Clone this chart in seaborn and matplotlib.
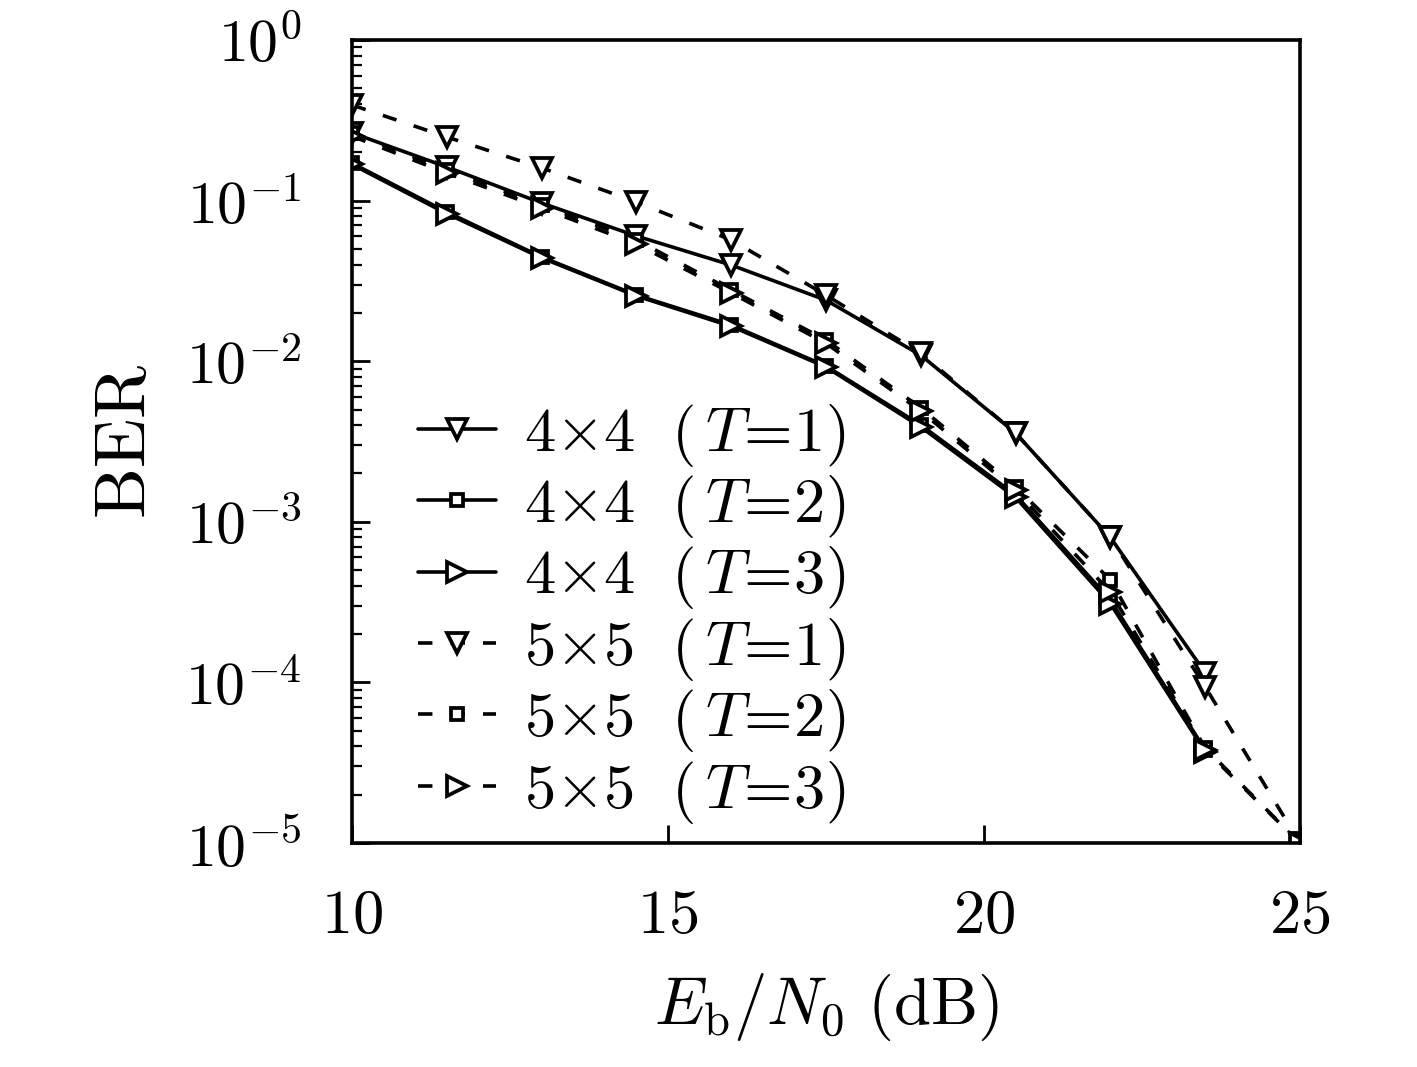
import numpy as np
import pandas as pd
import seaborn as sns
import matplotlib
matplotlib.use("Agg")
import matplotlib.pyplot as plt
from matplotlib.ticker import LogLocator, NullFormatter, FixedLocator

# data
snr_44 = [10, 11.5, 13, 14.5, 16, 17.5, 19, 20.5, 22, 23.5]
snr_55 = [10, 11.5, 13, 14.5, 16, 17.5, 19, 20.5, 22, 23.5, 25]

ber_44_t1 = [0.264, 0.162, 0.0966, 0.0602, 0.0397, 0.0240, 0.0109, 0.00357, 8.0e-4, 1.15e-4]
ber_44_t2 = [0.171, 0.0849, 0.0446, 0.0258, 0.0168, 0.00933, 0.00401, 0.00147, 3.26e-4, 3.8e-5]
ber_44_t3 = [0.168, 0.083, 0.044, 0.0255, 0.0165, 0.0092, 0.0039, 0.00142, 3.1e-4, 3.7e-5]
ber_55_t1 = [0.394, 0.249, 0.160, 0.098, 0.0569, 0.0258, 0.0112, 0.00357, 8.0e-4, 9.4e-5, 1.0e-5]
ber_55_t2 = [0.264, 0.155, 0.0939, 0.0569, 0.0277, 0.01355, 0.00512, 0.00165, 4.35e-4, 3.9e-5, 1.0e-5]
ber_55_t3 = [0.252, 0.1485, 0.090, 0.0537, 0.0266, 0.01294, 0.0049, 0.00157, 3.65e-4, 3.8e-5, 1.0e-5]

labels = [r"$4{\times}4\ \ (\,T\!=\!1)$", r"$4{\times}4\ \ (\,T\!=\!2)$", r"$4{\times}4\ \ (\,T\!=\!3)$",
          r"$5{\times}5\ \ (\,T\!=\!1)$", r"$5{\times}5\ \ (\,T\!=\!2)$", r"$5{\times}5\ \ (\,T\!=\!3)$"]

sns.set_style("ticks")
plt.rcParams["mathtext.fontset"] = "cm"
plt.rcParams["font.family"] = ["DejaVu Serif"]
plt.rcParams["text.color"] = "black"
plt.rcParams["axes.labelcolor"] = "black"
plt.rcParams["xtick.color"] = "black"
plt.rcParams["ytick.color"] = "black"
plt.rcParams["axes.edgecolor"] = "black"

fig = plt.figure(figsize=(14.17, 10.67), dpi=100)
ax = fig.add_axes([0.2484, 0.2099, 0.669, 0.7526])

dash = (0, (4, 5))
series = [
    (snr_44, ber_44_t1, "v", 15, "-"),
    (snr_44, ber_44_t2, "s", 9, "-"),
    (snr_44, ber_44_t3, ">", 15, "-"),
    (snr_55, ber_55_t1, "v", 15, dash),
    (snr_55, ber_55_t2, "s", 9, dash),
    (snr_55, ber_55_t3, ">", 15, dash),
]

for (x, y, m, ms, ls), lab in zip(series, labels):
    df = pd.DataFrame({"snr": x, "ber": y})
    sns.lineplot(data=df, x="snr", y="ber", ax=ax, color="black", linewidth=2.6,
                 linestyle=ls, marker=m, markersize=ms, markerfacecolor="white",
                 markeredgecolor="black", markeredgewidth=2.7, label=lab,
                 errorbar=None)

ax.set_yscale("log")
ax.set_xlim(10, 25)
ax.set_ylim(1e-5, 1)

ax.xaxis.set_major_locator(FixedLocator([10, 15, 20, 25]))
ax.set_xticklabels([r"$10$", r"$15$", r"$20$", r"$25$"])
ax.yaxis.set_major_locator(FixedLocator([1e0, 1e-1, 1e-2, 1e-3, 1e-4, 1e-5]))
ax.set_yticklabels([r"$10^{0}$", r"$10^{-1}$", r"$10^{-2}$", r"$10^{-3}$",
                    r"$10^{-4}$", r"$10^{-5}$"])
ax.yaxis.set_minor_locator(LogLocator(base=10, subs=np.arange(2, 10), numticks=20))
ax.yaxis.set_minor_formatter(NullFormatter())

ax.tick_params(axis="x", which="major", direction="in", labelsize=45,
               length=13, width=2, pad=30, top=False)
ax.tick_params(axis="y", which="major", direction="in", labelsize=43,
               length=13, width=2, pad=36, right=False)
ax.tick_params(axis="y", which="minor", direction="in", length=7, width=1.6,
               right=False)
for s in ax.spines.values():
    s.set_linewidth(2.6)
    s.set_color("black")

ax.set_xlabel(r"$E_{\rm b}/N_0\ ({\rm dB})$", fontsize=48, labelpad=18)
ax.set_ylabel(r"${\rm BER}$", fontsize=52, labelpad=18)

leg = ax.legend(loc="lower left", bbox_to_anchor=(0.03, -0.025), frameon=False,
                fontsize=45, handlelength=1.25, handletextpad=0.45,
                labelspacing=0.07, borderaxespad=0.2)

fig.savefig("out.png", dpi=100, facecolor="white")
